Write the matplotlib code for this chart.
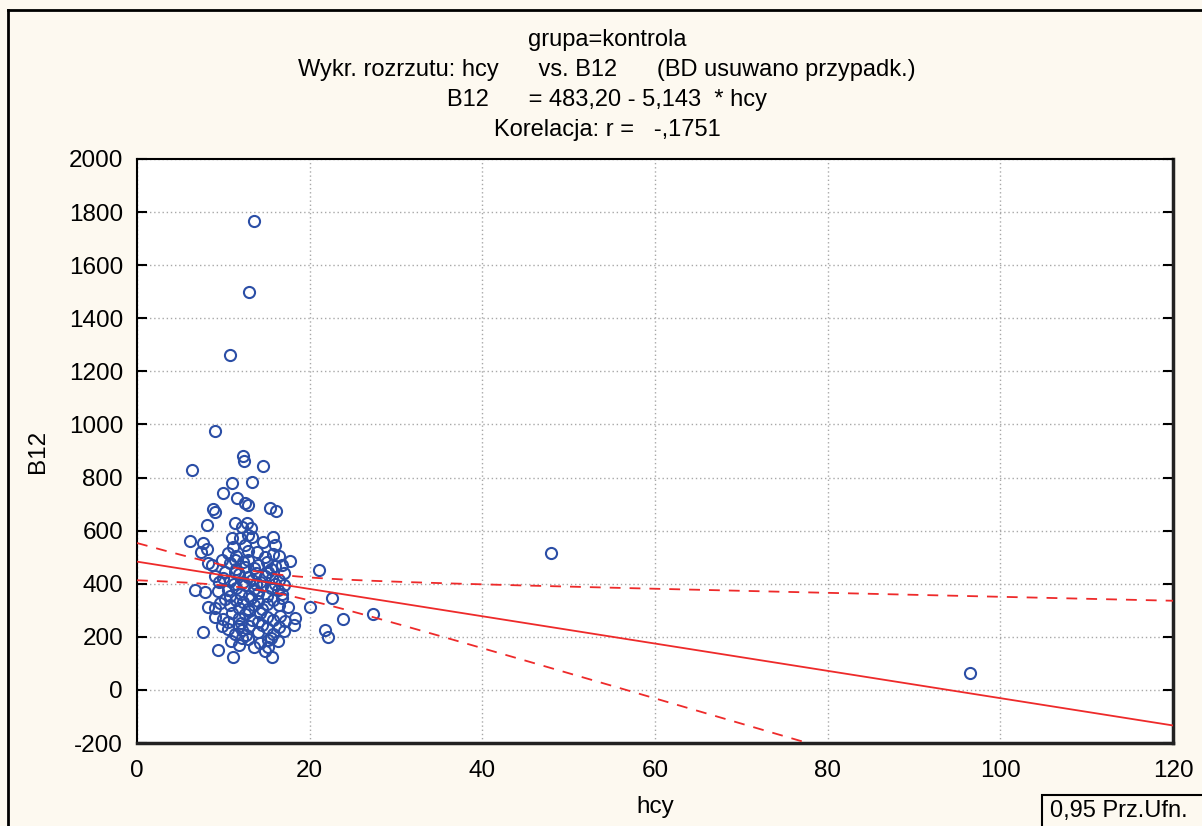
"""
Wykres rozrzutu hcy vs B12 (grupa kontrolna) z prostą regresji i 95% przedziałem ufności.
"""
import numpy as np
import matplotlib.pyplot as plt
from matplotlib.lines import Line2D
from matplotlib.patches import Rectangle

plt.rcParams["font.family"] = ["Liberation Sans", "DejaVu Sans"]
plt.rcParams["axes.unicode_minus"] = False

# wartości: (hcy, B12)
hcy_out = [13.5, 13.0, 10.8, 9.0, 6.4, 12.3, 12.4, 14.6, 48.0, 96.5, 27.3, 21.1,
           22.6, 23.9, 21.8, 22.1, 20.0, 18.3, 18.2, 17.5]
b12_out = [1765, 1500, 1260, 975, 830, 880, 862, 842, 515, 65, 286, 452,
           346, 267, 226, 200, 313, 271, 245, 313]

hcy_hi = [11.0, 13.3, 10.0, 11.6, 12.5, 12.8, 8.8, 9.0, 15.4, 16.1, 8.1, 11.4, 12.2, 12.7, 13.2]
b12_hi = [778, 782, 740, 722, 705, 695, 683, 672, 685, 675, 622, 628, 615, 628, 610]

hcy_core = [6.1, 7.6, 11.0, 11.9, 12.9, 13.3, 15.8, 14.6, 16.0,
            7.4, 8.1, 11.1, 12.5, 12.9, 13.9, 15.8, 11.5, 14.8, 16.5, 10.5,
            8.2, 8.7, 9.8, 10.8, 11.4, 12.3, 12.9, 14.0, 15.0, 16.0, 17.7, 15.5, 13.5, 11.5, 12.5, 16.8,
            9.0, 10.0, 10.8, 11.8, 12.8, 13.8, 14.8, 15.6, 16.5, 17.0, 12.3, 14.2, 16.0, 9.5, 11.3, 13.3, 15.2, 10.2,
            6.7, 7.9, 9.4, 10.5, 11.5, 12.5, 13.5, 14.5, 15.5, 16.3, 17.0, 12.0, 13.0, 14.0, 15.0, 10.8, 16.8, 11.2, 13.8,
            8.2, 9.0, 9.6, 10.8, 11.5, 12.3, 13.2, 14.0, 15.0, 15.8, 16.5, 12.8, 14.5, 11.8, 13.6, 10.2, 16.8,
            9.0, 10.0, 11.0, 11.8, 12.5, 13.3, 14.2, 15.0, 15.8, 16.6, 17.2, 12.0, 14.0, 10.5, 13.0,
            7.6, 10.5, 11.3, 12.2, 13.0, 14.0, 15.0, 15.8, 16.5, 17.0, 12.6, 14.5, 11.8, 9.8,
            10.9, 11.8, 12.8, 14.2, 15.2, 16.3, 13.5, 15.5, 12.2, 9.4, 14.8,
            11.1, 15.6, 15.2]
b12_core = [560, 552, 572, 572, 584, 576, 576, 556, 545,
            520, 532, 540, 546, 522, 520, 512, 505, 500, 505, 515,
            478, 471, 490, 478, 490, 482, 490, 470, 480, 465, 486, 455, 458, 455, 462, 470,
            430, 420, 410, 435, 425, 440, 430, 420, 415, 440, 405, 405, 400, 405, 445, 415, 445, 445,
            375, 368, 373, 378, 385, 395, 380, 390, 385, 378, 395, 360, 355, 365, 355, 355, 360, 398, 398,
            313, 309, 328, 320, 340, 330, 345, 335, 325, 340, 320, 305, 305, 310, 318, 342, 345,
            275, 268, 290, 270, 285, 262, 290, 275, 262, 280, 258, 252, 255, 255, 298,
            218, 230, 212, 225, 240, 218, 232, 210, 238, 222, 205, 245, 242, 240,
            185, 170, 190, 175, 160, 185, 160, 195, 195, 151, 145,
            124, 124, 188]

hcy = np.array(hcy_out + hcy_hi + hcy_core, dtype=float)
b12 = np.array(b12_out + b12_hi + b12_core, dtype=float)

# współczynniki regresji z opisu wykresu
A_COEF = 483.20
B_COEF = -5.143
T_CRIT = 1.974

xx = np.linspace(0, 120, 400)
yy = A_COEF + B_COEF * xx
n = len(hcy)
xbar = hcy.mean()
sxx = np.sum((hcy - xbar) ** 2)
resid = b12 - (A_COEF + B_COEF * hcy)
s = np.sqrt(np.sum(resid ** 2) / (n - 2))
hw = T_CRIT * s * np.sqrt(1.0 / n + (xx - xbar) ** 2 / sxx)

CREAM = "#fdf9f0"
BLUE = "#2b4ea6"
RED = "#ee2a2a"

fig = plt.figure(figsize=(12.02, 8.26), dpi=100)
fig.patch.set_facecolor(CREAM)
ax = fig.add_axes([137 / 1202, 1 - 743 / 826, (1173 - 137) / 1202, (743 - 159) / 826])
ax.set_facecolor("white")

ax.plot(hcy, b12, "o", ms=8, mfc="none", mec=BLUE, mew=1.5, zorder=3)
ax.plot(xx, yy, color=RED, lw=1.3, zorder=4)
ax.plot(xx, yy + hw, color=RED, lw=1.3, ls=(0, (6, 5)), zorder=4)
ax.plot(xx, yy - hw, color=RED, lw=1.3, ls=(0, (6, 5)), zorder=4)

ax.set_xlim(0, 120)
ax.set_ylim(-200, 2000)
ax.set_xticks(np.arange(0, 121, 20))
ax.set_yticks(np.arange(-200, 2001, 200))
ax.grid(True, color="#a8a8a8", ls=(0, (1, 2)), lw=1.0)
ax.set_axisbelow(True)

ax.tick_params(axis="y", direction="in", length=7, width=1.5, left=True, right=True,
               labelsize=17.5, pad=10, colors="black")
ax.tick_params(axis="x", length=0, labelsize=17.5, pad=12)
for side in ["left", "top"]:
    ax.spines[side].set_linewidth(1.5)
for side in ["right", "bottom"]:
    ax.spines[side].set_linewidth(2.5)
    ax.spines[side].set_color("#222222")

ax.set_xlabel("hcy", fontsize=17.5, labelpad=10)
ax.set_ylabel("B12", fontsize=17.5, labelpad=14)

title_lines = [
    "grupa=kontrola",
    "Wykr. rozrzutu: hcy      vs. B12      (BD usuwano przypadk.)",
    "B12      = 483,20 - 5,143  * hcy",
    "Korelacja: r =   -,1751",
]
for i, line in enumerate(title_lines):
    fig.text(0.505, 1 - (40 + 30 * i) / 826, line, ha="center", va="center", fontsize=17)

# ramka okna i etykieta przedziału ufności
fig.add_artist(Line2D([8 / 1202, 8 / 1202], [0, 1 - 10 / 826], color="black", lw=2))
fig.add_artist(Line2D([8 / 1202, 1], [1 - 10 / 826, 1 - 10 / 826], color="black", lw=2))
fig.add_artist(Rectangle((1042 / 1202, -0.01), 0.2, (826 - 795) / 826 + 0.01,
                         transform=fig.transFigure, fill=False, ec="black", lw=1.5))
fig.text(1050 / 1202, 1 - 811 / 826, "0,95 Prz.Ufn.", ha="left", va="center", fontsize=17)

fig.savefig("out.png", dpi=100, facecolor=CREAM)
